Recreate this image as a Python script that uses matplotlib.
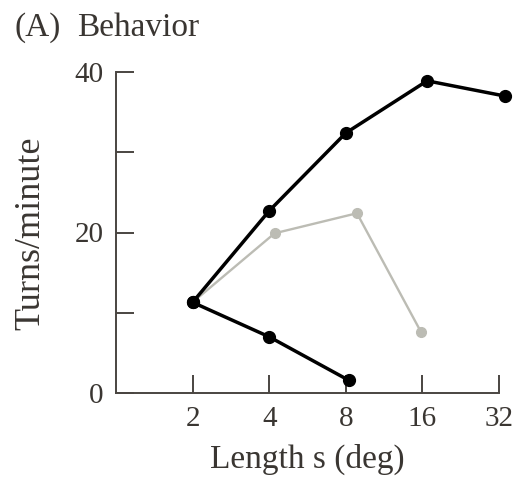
import matplotlib
matplotlib.use("Agg")
import matplotlib.pyplot as plt

# Data
rise_x = [2, 4, 8, 16.7, 33.8]
rise_y = [11.3, 22.7, 32.4, 38.9, 37.0]
gray_x = [2, 4.2, 8.85, 15.8]
gray_y = [11.3, 19.9, 22.4, 7.6]
fall_x = [2, 4, 8.2]
fall_y = [11.3, 7.0, 1.6]
xticks = [2, 4, 8, 16, 32]
xtick_labels = ["2", "4", "8", "16", "32"]
yticks_major = [0, 20, 40]
ytick_labels = ["0", "20", "40"]
yticks_minor = [10, 30]

plt.rcParams['font.family'] = ['Liberation Serif', 'DejaVu Serif']
txt = '#3a3632'
axc = '#4a4541'

fig = plt.figure(figsize=(5.28, 4.82), dpi=100)
ax = fig.add_axes([116/528, 1-393/482, (499-116)/528, (393-72)/482])

ax.plot(gray_x, gray_y, color='#bcbcb4', lw=1.7, marker='o', ms=7, clip_on=False, zorder=2)
ax.plot(rise_x, rise_y, color='black', lw=2.5, marker='o', ms=8.5, clip_on=False, zorder=3)
ax.plot(fall_x, fall_y, color='black', lw=2.5, marker='o', ms=8.5, clip_on=False, zorder=3)

ax.set_xscale('log', base=2)
ax.set_xlim(1, 32)
ax.set_ylim(0, 40)
ax.set_xticks(xticks)
ax.set_xticklabels(xtick_labels)
ax.xaxis.set_minor_locator(matplotlib.ticker.NullLocator())
ax.set_yticks(yticks_major)
ax.set_yticklabels(ytick_labels)
ax.set_yticks(yticks_minor, minor=True)

for s in ['top', 'right']:
    ax.spines[s].set_visible(False)
for s in ['left', 'bottom']:
    ax.spines[s].set_color(axc)
    ax.spines[s].set_linewidth(1.4)

ax.tick_params(axis='both', which='both', direction='in', length=13, width=1.4,
               color=axc, labelcolor=txt, labelsize=21)
ax.tick_params(axis='y', which='major', pad=9)
ax.tick_params(axis='x', which='major', pad=9)

fig.text(31/528, 1-233/482, 'Turns/minute', rotation=90, ha='center', va='center',
         fontsize=26, color=txt)
fig.text(307/528, 1-459/482, 'Length s (deg)', ha='center', va='center',
         fontsize=24, color=txt)
fig.text(14/528, 1-28/482, '(A)', ha='left', va='center', fontsize=24, color=txt)
fig.text(77/528, 1-28/482, 'Behavior', ha='left', va='center', fontsize=24, color=txt)

fig.savefig('out.png', dpi=100)
